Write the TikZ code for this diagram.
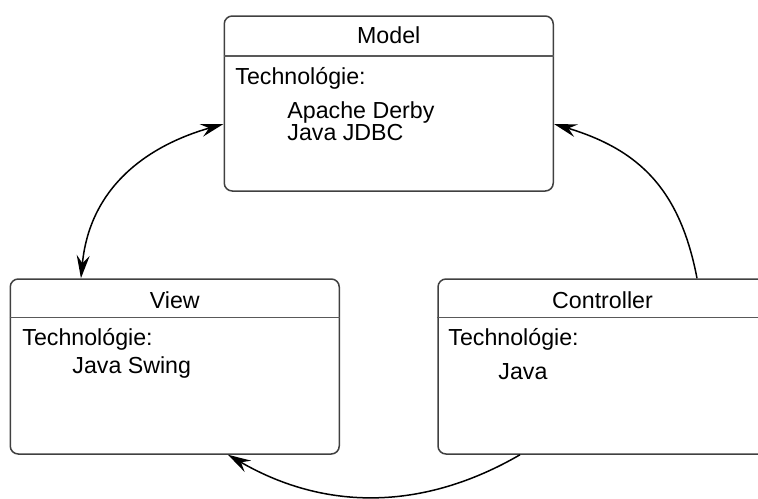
\documentclass[tikz,border=0pt]{standalone}
\usepackage{fontspec}
\setmainfont{Liberation Sans}
\usetikzlibrary{arrows.meta}
\begin{document}
\begin{tikzpicture}[x=0.5pt,y=-0.5pt,
  box/.style={draw=black!75, line width=0.75pt, rounded corners=4pt,
    minimum width=164.5pt, minimum height=87.5pt, inner sep=0pt},
  divider/.style={draw=black!65, line width=0.65pt},
  txt/.style={anchor=base west, inner sep=0pt, font=\fontsize{11.6}{13}\selectfont},
  ttl/.style={anchor=base, inner sep=0pt, font=\fontsize{11.6}{13}\selectfont},
  conn/.style={draw=black, line width=0.75pt}
]
\useasboundingbox (0,0) rectangle (758,498);
\clip (0,0) rectangle (758,498);

% boxes
\node[box] (model) at (388.75,103.5) {};
\node[box] (view) at (174.75,366.5) {};
\node[box] (ctrl) at (602.5,366.5) {};

% dividers
\draw[divider] (model.west |- 0,56) -- (model.east |- 0,56);
\draw[divider] (view.west |- 0,317.5) -- (view.east |- 0,317.5);
\draw[divider] (ctrl.west |- 0,317.5) -- (ctrl.east |- 0,317.5);

% Model texts
\node[ttl] (mtitle) at (388.75,43) {Model};
\node[txt] (mtech) at (235,84) {Technológie:};
\node[txt] (mline1) at (287,118) {Apache Derby};
\node[txt] (mline2) at (287,140) {Java JDBC};

% View texts
\node[ttl] (vtitle) at (174.75,308) {View};
\node[txt] (vtech) at (22,345) {Technológie:};
\node[txt] (vline1) at (72,373) {Java Swing};

% Controller texts
\node[ttl] (ctitle) at (602.5,308) {Controller};
\node[txt] (ctech) at (448,345) {Technológie:};
\node[txt] (cline1) at (498,379) {Java};

% connectors
\draw[conn, {Stealth[length=11.5pt, width=6.5pt, inset=4pt]}-{Stealth[length=11.5pt, width=6.5pt, inset=4pt]}]
  ([yshift=-10.25pt]model.west) .. controls (150,145) and (90,185) .. ([xshift=-46.9pt]view.north);
\draw[conn, -{Stealth[length=11.5pt, width=6.5pt, inset=4pt]}]
  ([xshift=47.25pt]ctrl.north) .. controls (680,190) and (640,150) .. ([yshift=-10.25pt]model.east);
\draw[conn, -{Stealth[length=11.5pt, width=6.5pt, inset=4pt]}]
  ([xshift=-41.25pt]ctrl.south) .. controls (423,511) and (325,511) .. ([xshift=26.6pt]view.south);
\end{tikzpicture}
\end{document}
